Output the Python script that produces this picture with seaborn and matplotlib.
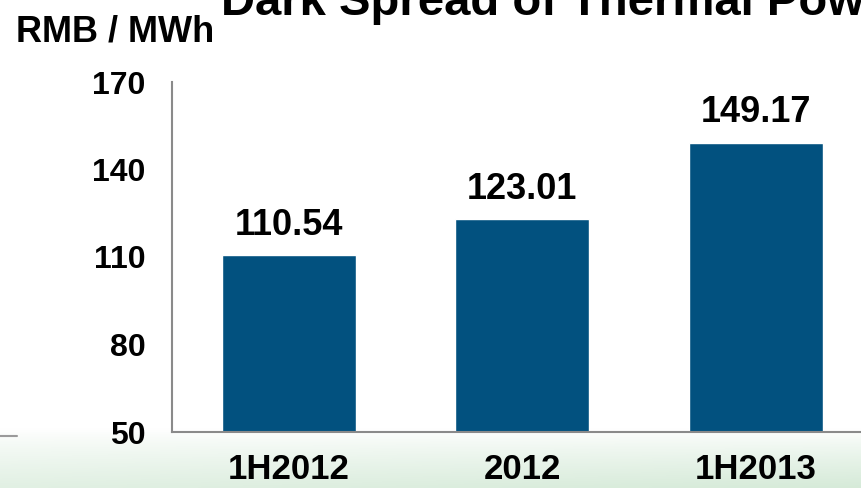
import numpy as np
import pandas as pd
import matplotlib
matplotlib.use("Agg")
import matplotlib.pyplot as plt
from matplotlib.lines import Line2D
import seaborn as sns

# Data
periods = ["1H2012", "2012", "1H2013"]
dark_spread = [110.54, 123.01, 149.17]
y_ticks = [50, 80, 110, 140, 170]

sns.set_theme(style="white")
plt.rcParams["font.family"] = ["Liberation Sans", "DejaVu Sans"]
plt.rcParams["font.weight"] = "bold"
plt.rcParams["text.color"] = "black"
plt.rcParams["xtick.color"] = "black"
plt.rcParams["ytick.color"] = "black"

W, H = 861, 488
fig = plt.figure(figsize=(W / 100, H / 100), dpi=100)
fig.patch.set_facecolor("white")

# Pale green wash along the bottom of the slide
bg = fig.add_axes([0, 0, 1, 1], zorder=0)
bg.axis("off")
ys = np.linspace(0, 1, 200)[:, None]          # 0 = top, 1 = bottom
xs = np.linspace(0, 1, 300)[None, :]
t = np.clip((ys - 0.882) / 0.118, 0, 1)
t = t ** 0.8 * (0.72 + 0.28 * xs)
white = np.array([1.0, 1.0, 1.0])
green = np.array([0.84, 0.92, 0.85])
img = white[None, None, :] * (1 - t[..., None]) + green[None, None, :] * t[..., None]
bg.imshow(img, extent=[0, 1, 0, 1], aspect="auto", origin="upper")
bg.set_xlim(0, 1)
bg.set_ylim(0, 1)

# Bar chart axes
ax_left, ax_bottom = 172 / W, (H - 432) / H
ax_w, ax_h = 700.5 / W, 350 / H
ax = fig.add_axes([ax_left, ax_bottom, ax_w, ax_h], zorder=1)
ax.patch.set_alpha(0)

df = pd.DataFrame({"period": periods, "spread": dark_spread})
sns.barplot(data=df, x="period", y="spread", color="#02517f", saturation=1,
            width=0.574, ax=ax)

ax.set_xlim(-0.5, 2.5)
ax.set_ylim(50, 170)
ax.set_yticks(y_ticks)
ax.set_yticklabels([str(v) for v in y_ticks], fontsize=23, fontweight="bold",
                   color="black")
ax.set_xticks(range(len(periods)))
ax.set_xticklabels(periods, fontsize=25, fontweight="bold", color="black")
ax.tick_params(axis="y", length=0, pad=19)
ax.tick_params(axis="x", length=0, pad=15)
ax.set_xlabel("")
ax.set_ylabel("")

for side in ["top", "right"]:
    ax.spines[side].set_visible(False)
for side in ["left", "bottom"]:
    ax.spines[side].set_color("#8a8a8a")
    ax.spines[side].set_linewidth(1.5)

# Value labels above each bar
for i, v in enumerate(dark_spread):
    ax.annotate(f"{v:.2f}", xy=(i, v), xytext=(0, 9), textcoords="offset points",
                ha="center", va="bottom", fontsize=26, fontweight="bold",
                color="black")

# Title and unit label
fig.text(221 / W, (H - 15) / H, "Dark Spread of Thermal Power",
         fontsize=34, fontweight="bold", ha="left", va="baseline", color="black")
fig.text(16 / W, (H - 41) / H, "RMB / MWh",
         fontsize=26, fontweight="bold", ha="left", va="baseline", color="black")

# Short rule at the left edge
fig.add_artist(Line2D([0, 17 / W], [(H - 436) / H] * 2, color="#9a9a9a", lw=1.5))

fig.savefig("out.png", dpi=100)
